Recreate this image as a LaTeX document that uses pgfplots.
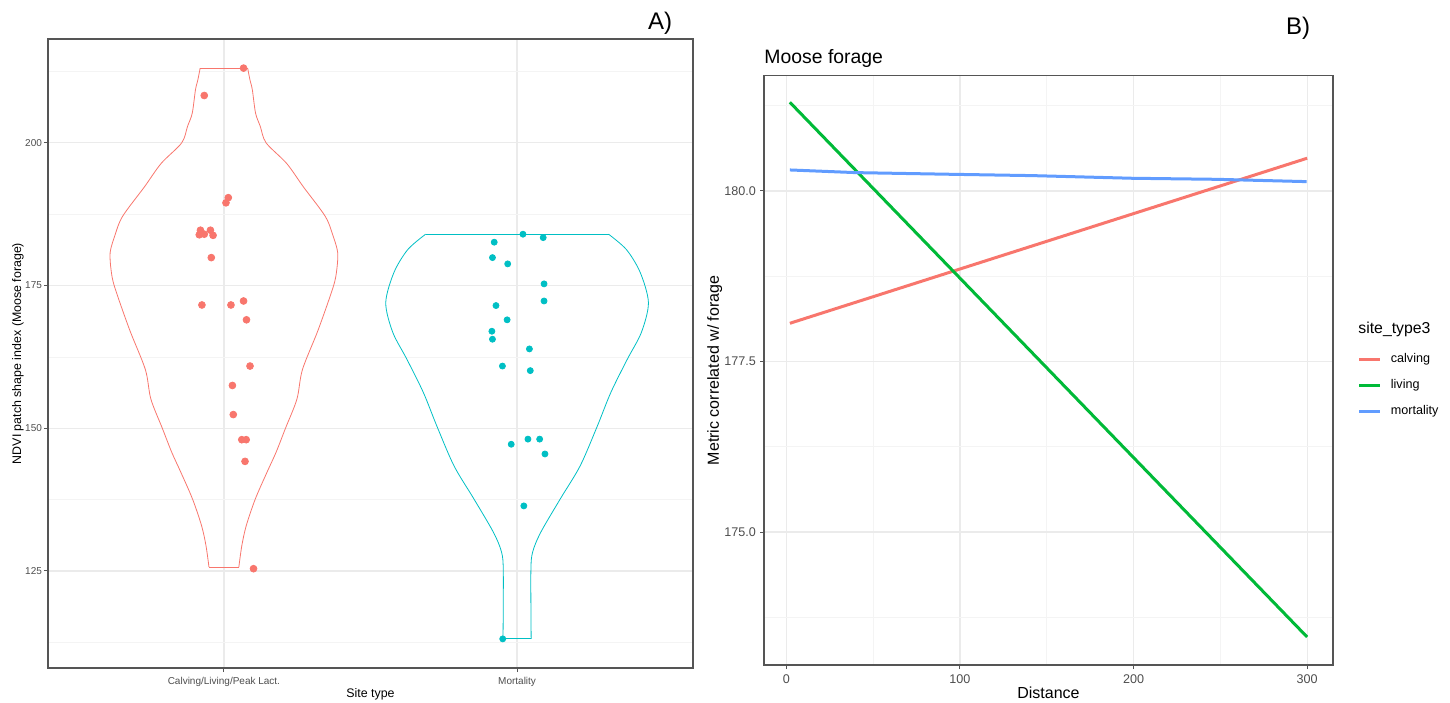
\documentclass[border=0pt]{standalone}
\usepackage{fontspec}
\setmainfont{Liberation Sans}
\usepackage{pgfplots}
\pgfplotsset{compat=1.18}

\definecolor{ggred}{HTML}{F8766D}
\definecolor{gggreen}{HTML}{00BA38}
\definecolor{ggblue}{HTML}{619CFF}
\definecolor{ggcyan}{HTML}{00BFC4}
\definecolor{gridmaj}{HTML}{EBEBEB}
\definecolor{gridmin}{HTML}{F4F4F4}
\definecolor{ticktxt}{HTML}{4D4D4D}
\definecolor{frame}{HTML}{555555}

\pgfplotsset{
  ggbase/.style={
    scale only axis,
    axis line style={frame, line width=0.6pt},
    tick style={frame, line width=0.5pt},
    tick align=outside,
    major tick length=2pt,
    minor tick length=0pt,
    tick pos=left,
    grid=both,
    major grid style={gridmaj, line width=0.6pt},
    minor grid style={gridmin, line width=0.4pt},
    ticklabel style={text=ticktxt},
    /pgf/number format/assume math mode=true,
    clip=false,
  }
}

\begin{document}
\begin{tikzpicture}
\path[use as bounding box] (0,0) rectangle (725pt,351pt);

% ---- A) violin + jitter ----
\begin{axis}[ggbase,
  at={(24pt,17pt)}, anchor=south west,
  width=322.5pt, height=314.5pt,
  xmin=0.4, xmax=2.6, ymin=108, ymax=218.2,
  xtick={1,2}, xticklabels={Calving/Living/Peak Lact., Mortality},
  ytick={125,150,175,200},
  minor ytick={112.5,137.5,162.5,187.5,212.5},
  ticklabel style={font=\fontsize{5}{6}\selectfont},
  yticklabel style={xshift=2.5pt},
  xticklabel style={yshift=0.8pt},
  xlabel={Site type}, ylabel={NDVI patch shape index (Moose forage)},
  every axis x label/.style={at={(axis description cs:0.5,-0.0415)}, anchor=center,
    font=\fontsize{6.2}{7}\selectfont},
  every axis y label/.style={at={(axis description cs:-0.0465,0.5)}, rotate=90, anchor=center,
    font=\fontsize{6.2}{7}\selectfont},
]
% red violin: left side, right side, bottom and top edges
\addplot[ggred, line width=0.4pt, smooth, tension=0.5] coordinates {
 (0.919,213.1) (0.911,211.0) (0.903,209.3) (0.892,205.2) (0.876,202.9)
 (0.856,200.0) (0.786,196.4) (0.729,192.3) (0.654,187.1) (0.627,183.6)
 (0.612,180.8) (0.615,177.8) (0.627,174.8) (0.678,167.3) (0.732,160.3)
 (0.751,155.1) (0.790,150.0) (0.822,145.8) (0.853,142.3) (0.893,137.6)
 (0.924,132.9) (0.939,129.4) (0.949,125.7)};
\addplot[ggred, line width=0.4pt, smooth, tension=0.5] coordinates {
 (1.051,125.7) (1.061,129.4) (1.076,132.9) (1.107,137.6) (1.147,142.3)
 (1.178,145.8) (1.210,150.0) (1.249,155.1) (1.268,160.3) (1.322,167.3)
 (1.373,174.8) (1.385,177.8) (1.388,180.8) (1.373,183.6) (1.346,187.1)
 (1.271,192.3) (1.214,196.4) (1.144,200.0) (1.124,202.9) (1.108,205.2)
 (1.097,209.3) (1.089,211.0) (1.081,213.1)};
\addplot[ggred, line width=0.4pt] coordinates {(0.949,125.7) (1.051,125.7)};
\addplot[ggred, line width=0.4pt] coordinates {(0.919,213.1) (1.081,213.1)};
% cyan violin
\addplot[ggcyan, line width=0.4pt, smooth, tension=0.5] coordinates {
 (1.688,184.0) (1.627,181.3) (1.580,177.3) (1.552,172.0) (1.576,166.8)
 (1.624,162.1) (1.680,156.3) (1.727,150.3) (1.785,143.4) (1.853,137.6)
 (1.919,131.8) (1.947,128.3) (1.953,124.8) (1.952,113.1)};
\addplot[ggcyan, line width=0.4pt, smooth, tension=0.5] coordinates {
 (2.048,113.1) (2.047,124.8) (2.053,128.3) (2.081,131.8) (2.147,137.6)
 (2.215,143.4) (2.273,150.3) (2.320,156.3) (2.376,162.1) (2.424,166.8)
 (2.448,172.0) (2.420,177.3) (2.373,181.3) (2.312,184.0)};
\addplot[ggcyan, line width=0.4pt] coordinates {(1.952,113.1) (2.048,113.1)};
\addplot[ggcyan, line width=0.4pt] coordinates {(1.688,184.0) (2.312,184.0)};
% jittered points
\addplot[only marks, mark=*, mark size=1.7pt, ggred, mark options={draw=ggred, fill=ggred}] coordinates {
 (1.067,213.1) (0.933,208.3) (1.015,190.4) (1.007,189.5) (0.920,184.7)
 (0.916,183.9) (0.933,184.0) (0.954,184.7) (0.963,183.8) (0.957,179.9)
 (0.925,171.6) (1.024,171.6) (1.067,172.3) (1.077,169.0) (1.089,160.9)
 (1.029,157.5) (1.032,152.4) (1.061,148.0) (1.076,148.0) (1.072,144.2)
 (1.101,125.4)
};
\addplot[only marks, mark=*, mark size=1.5pt, ggcyan, mark options={draw=ggcyan, fill=ggcyan}] coordinates {
 (2.020,184.0) (2.089,183.4) (1.922,182.6) (1.916,179.9) (1.968,178.8)
 (2.092,175.3) (2.092,172.3) (1.928,171.5) (1.966,169.0) (1.914,167.0)
 (1.916,165.6) (2.042,163.9) (1.950,160.9) (2.045,160.1) (1.980,147.2)
 (2.037,148.1) (2.077,148.1) (2.095,145.5) (2.023,136.4) (1.951,113.1)
};
\end{axis}

% ---- B) Moose forage lines ----
\begin{axis}[ggbase,
  at={(382pt,18.5pt)}, anchor=south west,
  width=284.5pt, height=294.65pt,
  xmin=-12.9, xmax=314.9, ymin=173.05, ymax=181.69,
  xtick={0,100,200,300}, minor xtick={50,150,250},
  ytick={175,177.5,180}, minor ytick={173.75,176.25,178.75,181.25},
  yticklabel style={xshift=1.5pt, /pgf/number format/.cd, fixed, fixed zerofill, precision=1},
  xticklabel style={yshift=0.8pt},
  ticklabel style={font=\fontsize{6.3}{7.5}\selectfont},
  xlabel={Distance}, ylabel={Metric correlated w/ forage},
  every axis x label/.style={at={(axis description cs:0.5,-0.0475)}, anchor=center,
    font=\fontsize{8}{9.5}\selectfont},
  every axis y label/.style={at={(axis description cs:-0.0865,0.5)}, rotate=90, anchor=center,
    font=\fontsize{8}{9.5}\selectfont},
  legend style={at={(axis description cs:1.043,0.536)}, anchor=north west,
    draw=none, fill=none, font=\fontsize{6.3}{7.5}\selectfont, row sep=3pt,
    inner sep=0pt},
  legend cell align=left,
  legend image code/.code={\draw[#1] (0pt,0pt) -- (10.5pt,0pt); \path (13pt,0pt);},
]
\addplot[ggred, line width=1.5pt] coordinates {(2,178.06) (300,180.48)};
\addlegendentry{calving}
\addplot[gggreen, line width=1.5pt] coordinates {(2,181.30) (300,173.46)};
\addlegendentry{living}
\addplot[ggblue, line width=1.5pt] coordinates {
 (2,180.308) (40,180.269) (93.8,180.245) (141.8,180.225)
 (199.4,180.186) (247.5,180.171) (299.7,180.137)};
\addlegendentry{mortality}
\end{axis}

\node[anchor=west, inner sep=0pt, font=\fontsize{9.7}{11}\selectfont] at (382pt,322pt) {Moose forage};
\node[anchor=west, inner sep=0pt, font=\fontsize{7.9}{9}\selectfont] at (679pt,186.5pt) {site\_type3};
\node[font=\fontsize{12}{14}\selectfont] at (330pt,339.5pt) {A)};
\node[font=\fontsize{12}{14}\selectfont] at (649pt,337pt) {B)};
\end{tikzpicture}
\end{document}
